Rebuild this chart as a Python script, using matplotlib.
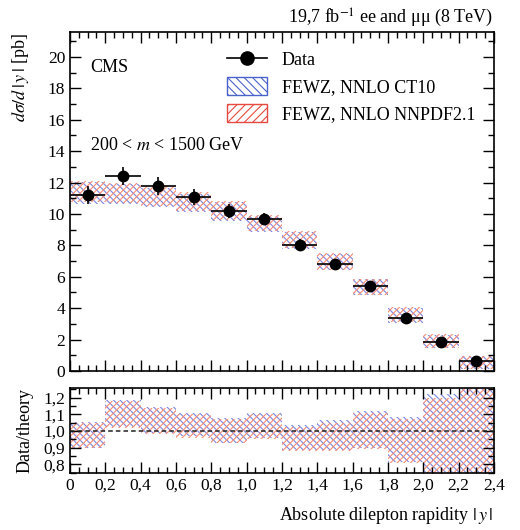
import matplotlib
matplotlib.use("Agg")
import matplotlib.pyplot as plt
import numpy as np
from matplotlib.lines import Line2D
from matplotlib.patches import Patch
from matplotlib.ticker import MultipleLocator, FuncFormatter

# |y| bins
bin_lo = [0.0, 0.2, 0.4, 0.6, 0.8, 1.0, 1.2, 1.4, 1.6, 1.8, 2.0, 2.2]
bin_w = 0.2

# measured dsigma/d|y| [pb] and its uncertainty
data_val = [11.22, 12.42, 11.79, 11.07, 10.20, 9.69, 8.00, 6.82, 5.40, 3.39, 1.84, 0.64]
data_err = [0.57, 0.60, 0.58, 0.50, 0.45, 0.40, 0.38, 0.30, 0.25, 0.22, 0.18, 0.15]

# FEWZ NNLO predictions (band edges)
ct10_lo = [10.66, 10.62, 10.42, 10.10, 9.57, 8.84, 7.78, 6.42, 4.84, 3.08, 1.47, 0.10]
ct10_hi = [12.05, 11.92, 11.68, 11.30, 10.73, 9.89, 8.87, 7.47, 5.83, 4.02, 2.30, 0.93]
nnpdf_lo = [10.73, 10.69, 10.48, 10.16, 9.63, 8.89, 7.83, 6.46, 4.87, 3.11, 1.49, 0.12]
nnpdf_hi = [12.13, 12.00, 11.75, 11.37, 10.80, 9.95, 8.93, 7.52, 5.87, 4.06, 2.33, 0.95]

# data/theory bands
ratio_ct10_lo = [0.900, 1.025, 0.985, 0.970, 0.930, 0.955, 0.885, 0.885, 0.895, 0.815, 0.755, 0.70]
ratio_ct10_hi = [1.056, 1.187, 1.147, 1.110, 1.080, 1.110, 1.036, 1.066, 1.122, 1.085, 1.220, 1.30]
ratio_nnpdf_lo = [0.895, 1.020, 0.980, 0.960, 0.925, 0.950, 0.880, 0.880, 0.890, 0.810, 0.750, 0.70]
ratio_nnpdf_hi = [1.050, 1.180, 1.140, 1.100, 1.070, 1.100, 1.025, 1.050, 1.110, 1.070, 1.200, 1.30]

blue = "#4a62cc"
red = "#e84a40"
blue_fill = "#7c84e0"
red_fill = "#f58a74"

plt.rcParams["font.family"] = ["Liberation Serif", "DejaVu Serif"]
plt.rcParams["mathtext.fontset"] = "stix"
plt.rcParams["hatch.linewidth"] = 0.8
plt.rcParams["font.size"] = 12.5

fig = plt.figure(figsize=(5.2, 5.3), dpi=100)
ax = fig.add_axes([0.1346, 0.300, 0.8154, 0.640])
rax = fig.add_axes([0.1346, 0.108, 0.8154, 0.1595])

centers = np.array(bin_lo) + bin_w / 2


def bands(a, lo, hi, color, hatch):
    lo = np.array(lo)
    hi = np.array(hi)
    a.bar(centers, hi - lo, bottom=lo, width=bin_w, fill=False,
          hatch=hatch, edgecolor=color, linewidth=0, zorder=1)


bands(ax, ct10_lo, ct10_hi, blue_fill, "\\" * 5)
bands(ax, nnpdf_lo, nnpdf_hi, red_fill, "/" * 5)
ax.errorbar(centers, data_val, xerr=bin_w / 2, yerr=data_err, fmt="o",
            color="black", markersize=7.5, elinewidth=1.2, capsize=0, zorder=3)

bands(rax, ratio_ct10_lo, ratio_ct10_hi, blue_fill, "\\" * 5)
bands(rax, ratio_nnpdf_lo, ratio_nnpdf_hi, red_fill, "/" * 5)
rax.axhline(1.0, color="#222222", linestyle=(0, (3, 2)), linewidth=1.1, zorder=4)

comma = FuncFormatter(lambda v, p: "0" if abs(v) < 1e-9 else f"{v:.1f}".replace(".", ","))

for a in (ax, rax):
    a.set_xlim(0, 2.4)
    a.xaxis.set_major_locator(MultipleLocator(0.2))
    a.xaxis.set_minor_locator(MultipleLocator(0.05))
    a.tick_params(which="both", direction="in", top=True, right=True,
                  width=1.0, labelsize=12.5)
    a.tick_params(which="major", length=8)
    a.tick_params(which="minor", length=4.5)
    for s in a.spines.values():
        s.set_linewidth(1.2)

ax.set_ylim(0, 21.6)
ax.yaxis.set_major_locator(MultipleLocator(2))
ax.yaxis.set_minor_locator(MultipleLocator(1))
ax.tick_params(labelbottom=False)

rax.set_ylim(0.749, 1.257)
rax.yaxis.set_major_locator(MultipleLocator(0.1))
rax.yaxis.set_minor_locator(MultipleLocator(0.05))
rax.yaxis.set_major_formatter(comma)
rax.xaxis.set_major_formatter(comma)

# texts
fig.text(0.948, 0.967, "19,7 fb$^{-1}$ ee and μμ (8 TeV)", ha="right", va="center", fontsize=13)
ax.text(0.047, 0.895, "CMS", transform=ax.transAxes, ha="left", va="center", fontsize=13)
ax.text(0.047, 0.665, "200 < $m$ < 1500 GeV", transform=ax.transAxes,
        ha="left", va="center", fontsize=13)
fig.text(0.040, 0.938, r"$d\sigma/d\,|\,y\,|$ [pb]", rotation=90, ha="center", va="top", fontsize=13)
fig.text(0.048, 0.188, "Data/theory", rotation=90, ha="center", va="center", fontsize=13)
fig.text(0.948, 0.027, r"Absolute dilepton rapidity $|\,y\,|$", ha="right", va="center", fontsize=13)

handles = [
    Line2D([], [], color="black", marker="o", markersize=9.5, linewidth=1.2),
    Patch(facecolor="white", edgecolor=blue, hatch="\\\\\\\\", linewidth=1.0),
    Patch(facecolor="white", edgecolor=red, hatch="////", linewidth=1.0),
]
labels = ["Data", "FEWZ, NNLO CT10", "FEWZ, NNLO NNPDF2.1"]
ax.legend(handles, labels, loc="upper left", bbox_to_anchor=(0.37, 0.945),
          frameon=False, borderpad=0, borderaxespad=0, handlelength=2.2,
          handleheight=1.1, handletextpad=0.85, labelspacing=0.45, fontsize=13)

fig.savefig("out.png", dpi=100)
